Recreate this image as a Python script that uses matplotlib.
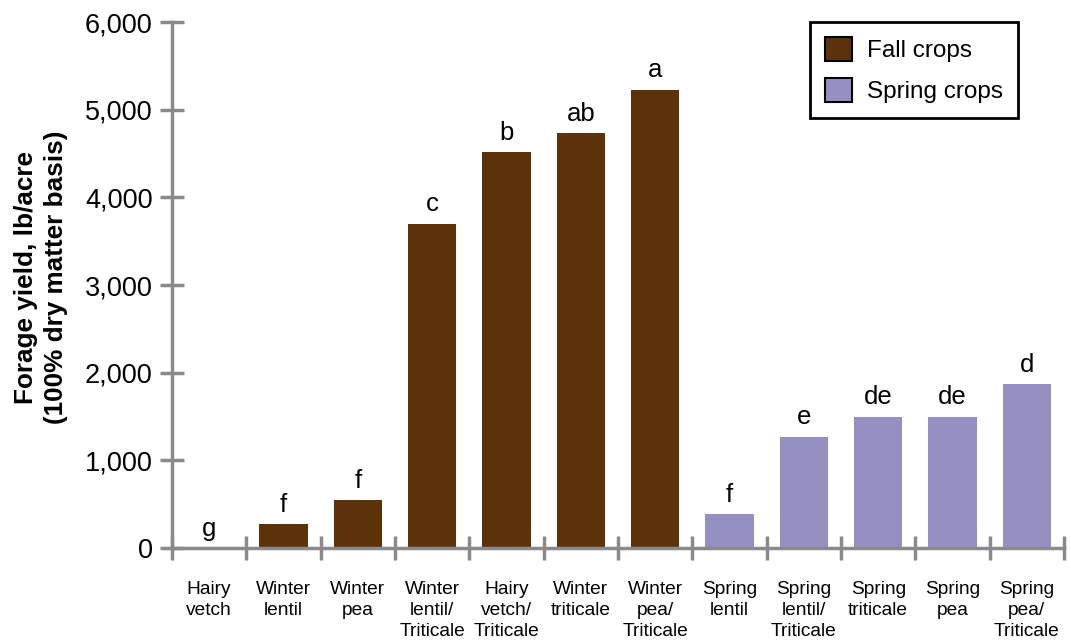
import matplotlib.pyplot as plt
from matplotlib.patches import Patch
import numpy as np

plt.rcParams['font.family'] = ['Liberation Sans', 'DejaVu Sans']

crops = ["Hairy\nvetch", "Winter\nlentil", "Winter\npea", "Winter\nlentil/\nTriticale",
         "Hairy\nvetch/\nTriticale", "Winter\ntriticale", "Winter\npea/\nTriticale",
         "Spring\nlentil", "Spring\nlentil/\nTriticale", "Spring\ntriticale",
         "Spring\npea", "Spring\npea/\nTriticale"]
yields = [0, 270, 550, 3700, 4520, 4730, 5230, 390, 1270, 1500, 1500, 1870]
letters = ["g", "f", "f", "c", "b", "ab", "a", "f", "e", "de", "de", "d"]
season = ["fall"] * 7 + ["spring"] * 5

brown = "#5C320A"
purple = "#968FC2"
gray = "#8A8A8C"

fig = plt.figure(figsize=(10.71, 6.44), dpi=100)
ax = fig.add_axes([0.1606, 0.149, 0.8329, 0.8168])

x = np.arange(len(crops))
cols = [brown if s == "fall" else purple for s in season]
ax.bar(x, yields, width=0.65, color=cols, zorder=2)
for xi, v, lab in zip(x, yields, letters):
    ax.text(xi, v + 140, lab, ha="center", va="baseline", fontsize=18.5)

ax.set_xlim(-0.5, len(crops) - 0.5)
ax.set_ylim(0, 6000)
ax.set_yticks(range(0, 6001, 1000))
ax.set_yticklabels([f"{v:,}" for v in range(0, 6001, 1000)], fontsize=19.5)
ax.tick_params(axis="y", direction="inout", length=17, width=2.5, color=gray, pad=5.5)

ax.set_xticks(x)
ax.set_xticklabels(crops, fontsize=13.8, linespacing=1.3, va="top")
ax.tick_params(axis="x", which="major", length=0, pad=24)
ax.set_xticks(np.arange(-0.5, len(crops), 1), minor=True)
ax.tick_params(axis="x", which="minor", direction="inout", length=17, width=2.5, color=gray)

for s in ["top", "right"]:
    ax.spines[s].set_visible(False)
for s in ["left", "bottom"]:
    ax.spines[s].set_color(gray)
    ax.spines[s].set_linewidth(2.5)
ax.spines["bottom"].set_zorder(3)

ax.set_ylabel("Forage yield, lb/acre\n(100% dry matter basis)", fontsize=18.8,
              fontweight="bold", linespacing=1.3)
ax.yaxis.set_label_coords(-0.117, 0.515)

handles = [Patch(facecolor=brown, edgecolor="black", linewidth=1.5, label="Fall crops"),
           Patch(facecolor=purple, edgecolor="black", linewidth=1.5, label="Spring crops")]
leg = ax.legend(handles=handles, loc="upper right", bbox_to_anchor=(0.948, 1.0),
                borderaxespad=0, fontsize=17.5, fancybox=False, framealpha=1,
                edgecolor="black", handlelength=1.15, handleheight=1.15, borderpad=0.6,
                labelspacing=0.65, handletextpad=0.6)
leg.get_frame().set_linewidth(2)

fig.savefig("out.png", dpi=100)
